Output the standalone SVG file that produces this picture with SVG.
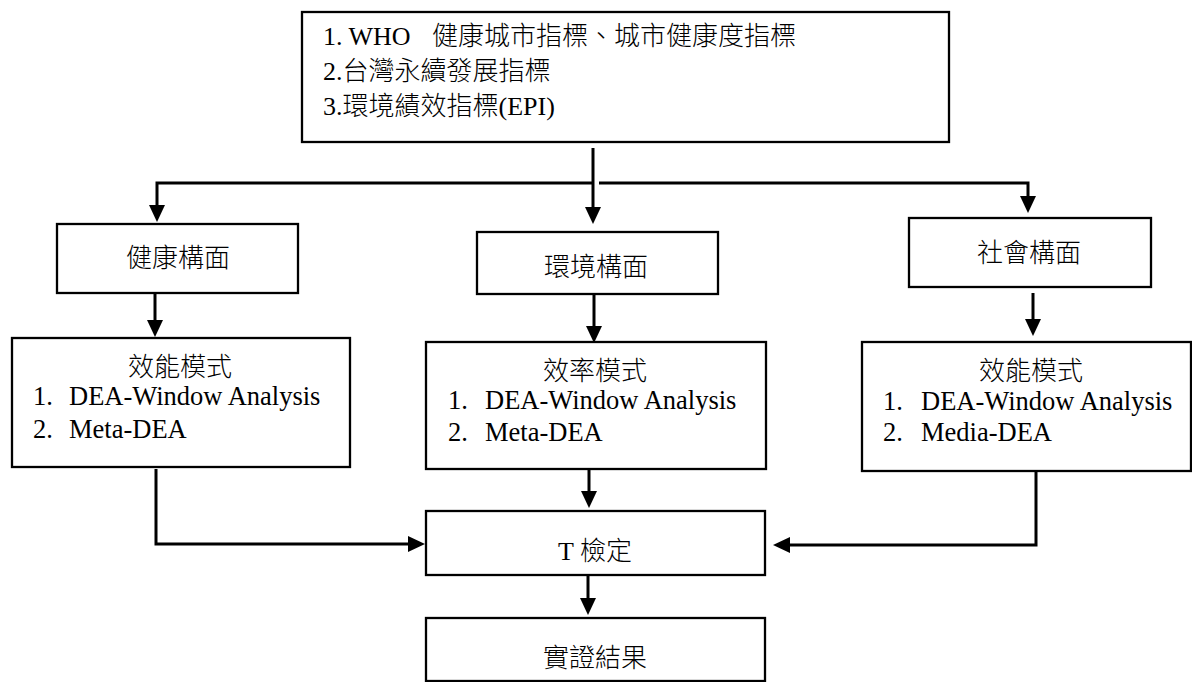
<svg xmlns="http://www.w3.org/2000/svg" width="1192" height="682" viewBox="0 0 1192 682">
<style>
.box{fill:#fff;stroke:#000;stroke-width:2.3}
.t{font-family:"Liberation Serif","Noto Sans CJK TC",serif;font-size:26px;font-weight:300;fill:#000}
.s{font-family:"Liberation Serif",serif}
.l{font-size:26.5px}
.c{text-anchor:middle}
.ln{fill:none;stroke:#000;stroke-width:3}
.ar{marker-end:url(#ah)}
</style>
<defs>
<marker id="ah" markerUnits="userSpaceOnUse" markerWidth="17" markerHeight="17" viewBox="0 0 17 17" refX="7" refY="8.5" orient="auto">
<path d="M0,0.5 L17,8.5 L0,16.5 z" fill="#000"/>
</marker>
</defs>
<rect x="0" y="0" width="1192" height="682" fill="#fff"/>
<g id="connectors">
<line class="ln ar" x1="593" y1="148" x2="593" y2="214"/>
<path class="ln ar" d="M593,183 H157 V212"/>
<path class="ln ar" d="M599,183 H1028 V203"/>
<line class="ln ar" x1="155" y1="293" x2="155" y2="327"/>
<line class="ln ar" x1="594" y1="294" x2="594" y2="333"/>
<line class="ln ar" x1="1033" y1="293" x2="1033" y2="326"/>
<path class="ln ar" d="M156,469 V544 H415"/>
<line class="ln ar" x1="589" y1="469" x2="589" y2="498"/>
<path class="ln ar" d="M1036,471 V545 H783"/>
<line class="ln ar" x1="588" y1="575" x2="588" y2="605"/>
</g>
<g id="indicators">
<rect class="box" x="302" y="12" width="647" height="130"/>
<text class="t" x="323" y="45"><tspan class="s">1. WHO</tspan><tspan x="432">健康城市指標、城市健康度指標</tspan></text>
<text class="t" x="323" y="80"><tspan class="s">2.</tspan>台灣永續發展指標</text>
<text class="t" x="323" y="115"><tspan class="s">3.</tspan>環境績效指標<tspan class="s">(EPI)</tspan></text>
</g>
<g id="health">
<rect class="box" x="57" y="224" width="241" height="69"/>
<text class="t c" x="178" y="267">健康構面</text>
</g>
<g id="environment">
<rect class="box" x="477" y="232" width="241" height="62"/>
<text class="t c" x="596" y="276">環境構面</text>
</g>
<g id="social">
<rect class="box" x="909" y="218" width="242" height="69"/>
<text class="t c" x="1029" y="262">社會構面</text>
</g>
<g id="health-model">
<rect class="box" x="12" y="338" width="338" height="129"/>
<text class="t c" x="180" y="376">效能模式</text>
<text class="t l" x="33" y="405">1.<tspan x="69">DEA-Window Analysis</tspan></text>
<text class="t l" x="33" y="438">2.<tspan x="69">Meta-DEA</tspan></text>
</g>
<g id="environment-model">
<rect class="box" x="426" y="342" width="340" height="127"/>
<text class="t c" x="595" y="380">效率模式</text>
<text class="t l" x="448" y="409">1.<tspan x="485">DEA-Window Analysis</tspan></text>
<text class="t l" x="448" y="441">2.<tspan x="485">Meta-DEA</tspan></text>
</g>
<g id="social-model">
<rect class="box" x="862" y="342" width="329" height="129"/>
<text class="t c" x="1031" y="380">效能模式</text>
<text class="t l" x="883" y="410">1.<tspan x="921">DEA-Window Analysis</tspan></text>
<text class="t l" x="883" y="441">2.<tspan x="921">Media-DEA</tspan></text>
</g>
<g id="t-test">
<rect class="box" x="426" y="511" width="339" height="64"/>
<text class="t" x="558" y="560"><tspan class="s">T </tspan>檢定</text>
</g>
<g id="result">
<rect class="box" x="426" y="618" width="339" height="63"/>
<text class="t c" x="595" y="667">實證結果</text>
</g>
</svg>
